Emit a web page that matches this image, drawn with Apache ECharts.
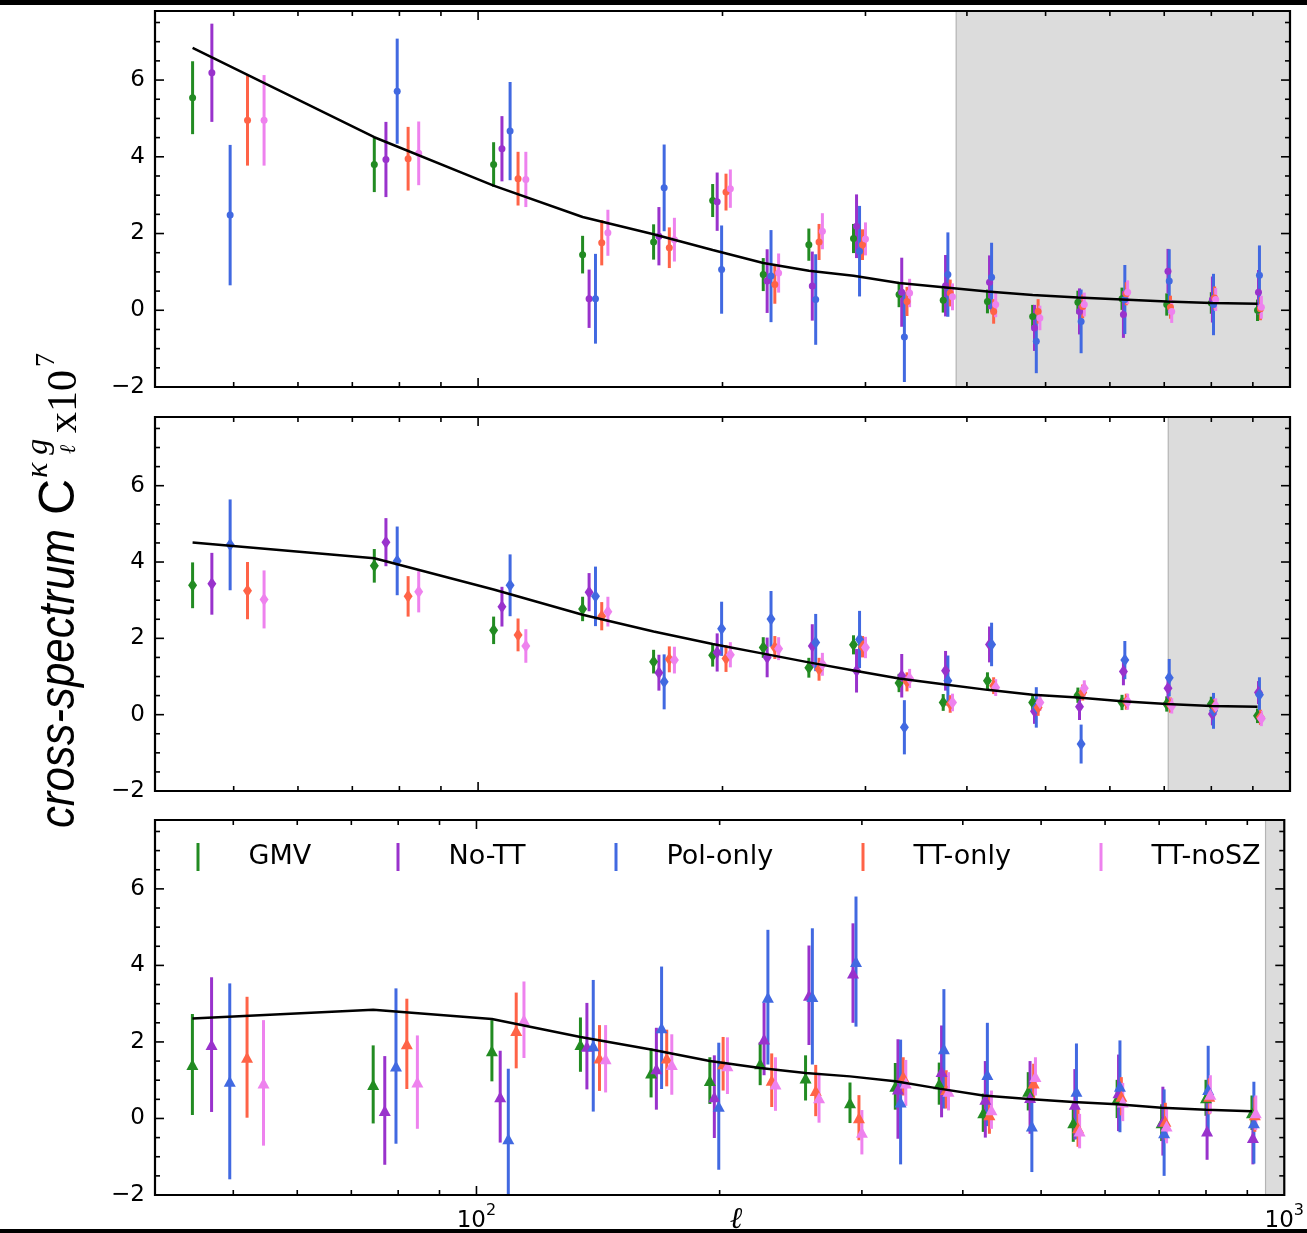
<!DOCTYPE html>
<html>
<head>
<meta charset="utf-8">
<title>cross-spectrum</title>
<script src="https://cdn.jsdelivr.net/npm/echarts@6/dist/echarts.min.js"></script>
<style>
  html, body { margin: 0; padding: 0; background: #fff; }
  #chart { width: 1307px; height: 1233px; }
</style>
</head>
<body>
<div id="chart"></div>
<script>
// bin positions in ell (GMV point); the other estimators sit a little to the right
var binL = [44.5, 74.5, 104.5, 134.5, 164.5, 194.5, 224.5, 255.5, 290, 330, 374, 424, 482, 548, 621, 705, 800, 912];
var estShift = [0, 2.5, 5, 7.5, 10];
var names = ['GMV', 'No-TT', 'Pol-only', 'TT-only', 'TT-noSZ'];
var colors = ['#228b22', '#9932cc', '#4169e1', '#ff6347', '#ee82ee'];

// top panel (dots)
var topGMV = [5.54, 3.80, 3.80, 1.45, 1.78, 2.86, 0.93, 1.71, 1.87, 0.41, 0.26, 0.23, -0.16, 0.21, 0.30, 0.15, 0.19, 0.00];
var topGMVErr = [0.95, 0.72, 0.58, 0.49, 0.46, 0.43, 0.43, 0.42, 0.38, 0.33, 0.32, 0.31, 0.30, 0.30, 0.29, 0.29, 0.28, 0.28];
var topNoTT = [6.19, 3.93, 4.21, 0.30, 1.93, 2.83, 0.76, 0.63, 2.19, 0.47, 0.64, 0.73, -0.46, -0.03, -0.11, 1.02, 0.28, 0.47];
var topNoTTErr = [1.28, 0.98, 0.85, 0.76, 0.76, 0.76, 0.83, 0.90, 0.83, 0.90, 0.80, 0.70, 0.60, 0.60, 0.61, 0.58, 0.60, 0.58];
var topPol = [2.48, 5.71, 4.67, 0.30, 3.19, 1.06, 0.89, 0.28, 1.54, -0.70, 0.93, 0.86, -0.81, -0.29, 0.28, 0.76, 0.15, 0.91];
var topPolErr = [1.83, 1.37, 1.28, 1.17, 1.13, 1.15, 1.20, 1.18, 1.18, 1.17, 1.10, 0.90, 0.83, 0.83, 0.90, 0.83, 0.80, 0.78];
var topTT = [4.95, 3.95, 3.43, 1.76, 1.63, 3.08, 0.67, 1.78, 1.71, 0.23, 0.45, -0.03, -0.03, 0.10, 0.43, 0.08, 0.32, 0.04];
var topTTErr = [1.18, 0.83, 0.70, 0.59, 0.53, 0.48, 0.50, 0.47, 0.40, 0.38, 0.35, 0.32, 0.32, 0.31, 0.30, 0.30, 0.30, 0.30];
var topNoSZ = [4.95, 4.09, 3.41, 2.02, 1.84, 3.17, 0.97, 2.06, 1.86, 0.45, 0.35, 0.15, -0.20, 0.15, 0.47, -0.03, 0.28, 0.08];
var topNoSZErr = [1.18, 0.83, 0.72, 0.60, 0.57, 0.50, 0.51, 0.47, 0.43, 0.37, 0.35, 0.33, 0.32, 0.31, 0.31, 0.30, 0.30, 0.30];
var topTheory = [6.84, 4.51, 3.25, 2.43, 1.98, 1.57, 1.23, 1.03, 0.90, 0.71, 0.60, 0.49, 0.40, 0.33, 0.28, 0.23, 0.19, 0.17];

// middle panel (diamonds)
var midGMV = [3.39, 3.90, 2.21, 2.77, 1.39, 1.56, 1.76, 1.23, 1.83, 0.83, 0.32, 0.89, 0.32, 0.51, 0.32, 0.28, 0.28, -0.03];
var midGMVErr = [0.60, 0.44, 0.36, 0.32, 0.31, 0.30, 0.27, 0.26, 0.25, 0.24, 0.22, 0.22, 0.21, 0.20, 0.20, 0.20, 0.19, 0.19];
var midNoTT = [3.43, 4.52, 2.83, 3.21, 1.10, 1.63, 1.50, 1.80, 1.15, 1.02, 1.15, 1.84, 0.09, 0.21, 1.13, 0.69, 0.02, 0.58];
var midNoTTErr = [0.81, 0.63, 0.52, 0.50, 0.47, 0.50, 0.52, 0.57, 0.57, 0.57, 0.52, 0.47, 0.33, 0.35, 0.36, 0.33, 0.30, 0.30];
var midPol = [4.45, 4.03, 3.39, 3.10, 0.86, 2.25, 2.51, 1.89, 1.97, -0.33, 0.89, 1.84, 0.19, -0.77, 1.43, 0.97, 0.10, 0.52];
var midPolErr = [1.19, 0.90, 0.81, 0.78, 0.72, 0.71, 0.73, 0.75, 0.75, 0.71, 0.66, 0.57, 0.53, 0.51, 0.50, 0.49, 0.47, 0.46];
var midTT = [3.25, 3.10, 2.09, 2.58, 1.45, 1.47, 1.76, 1.19, 1.78, 0.86, 0.28, 0.76, 0.19, 0.58, 0.34, 0.25, 0.21, -0.07];
var midTTErr = [0.75, 0.53, 0.43, 0.37, 0.34, 0.35, 0.30, 0.30, 0.28, 0.25, 0.23, 0.22, 0.22, 0.21, 0.21, 0.20, 0.20, 0.20];
var midNoSZ = [3.02, 3.22, 1.80, 2.70, 1.43, 1.57, 1.73, 1.32, 1.76, 0.95, 0.32, 0.71, 0.32, 0.69, 0.34, 0.23, 0.23, -0.10];
var midNoSZErr = [0.76, 0.54, 0.44, 0.39, 0.35, 0.33, 0.30, 0.30, 0.28, 0.25, 0.23, 0.22, 0.22, 0.21, 0.21, 0.20, 0.20, 0.20];
var midTheory = [4.51, 4.10, 3.28, 2.62, 2.18, 1.85, 1.60, 1.37, 1.16, 0.95, 0.80, 0.65, 0.52, 0.45, 0.35, 0.28, 0.23, 0.21];

// bottom panel (triangles)
var botGMV = [1.41, 0.89, 1.77, 1.93, 1.19, 0.99, 1.43, 1.06, 0.41, 0.84, 0.91, 0.15, 0.71, -0.11, 0.51, -0.11, 0.54, 0.15];
var botGMVErr = [1.32, 1.02, 0.80, 0.71, 0.64, 0.61, 0.56, 0.59, 0.53, 0.61, 0.55, 0.50, 0.50, 0.50, 0.50, 0.48, 0.47, 0.45];
var botNoTT = [1.93, 0.21, 0.57, 1.89, 1.30, 0.57, 2.08, 3.22, 3.80, 0.77, 1.23, 0.50, 0.55, 0.37, 0.67, -0.07, -0.33, -0.50];
var botNoTTErr = [1.76, 1.42, 1.20, 1.13, 1.07, 1.08, 0.95, 1.30, 1.30, 1.30, 1.20, 1.00, 0.95, 0.92, 1.00, 0.90, 0.75, 0.70];
var botPol = [0.97, 1.37, -0.53, 1.90, 2.37, 0.32, 3.17, 3.19, 4.10, 0.43, 1.82, 1.15, -0.20, 0.71, 0.84, -0.37, 0.76, -0.11];
var botPolErr = [2.56, 2.03, 1.83, 1.72, 1.60, 1.66, 1.76, 1.78, 1.70, 1.63, 1.56, 1.35, 1.20, 1.25, 1.20, 1.13, 1.14, 1.07];
var botTT = [1.60, 1.95, 2.30, 1.58, 1.58, 1.43, 1.00, 0.73, 0.02, 1.10, 0.76, 0.10, 0.93, -0.24, 0.58, -0.07, 0.58, 0.10];
var botTTErr = [1.58, 1.18, 0.99, 0.86, 0.74, 0.70, 0.70, 0.67, 0.59, 0.50, 0.50, 0.50, 0.50, 0.50, 0.50, 0.48, 0.47, 0.45];
var botNoSZ = [0.93, 0.95, 2.58, 1.56, 1.41, 1.38, 0.90, 0.54, -0.36, 0.93, 0.71, 0.23, 1.10, -0.33, 0.43, -0.20, 0.63, 0.15];
var botNoSZErr = [1.64, 1.22, 1.00, 0.88, 0.79, 0.74, 0.70, 0.65, 0.58, 0.60, 0.50, 0.50, 0.50, 0.45, 0.50, 0.45, 0.50, 0.45];
var botTheory = [2.61, 2.84, 2.60, 2.13, 1.80, 1.50, 1.32, 1.19, 1.10, 0.97, 0.78, 0.60, 0.51, 0.43, 0.37, 0.28, 0.23, 0.19];

// start of the grey (excluded) ell range in each panel
var shadeStart = [388, 708, 948];

// tick values
var xMajorTicks = [100];
var xMinorTicks = [50, 60, 70, 80, 90, 200, 300, 400, 500, 600, 700, 800, 900];
var yMajorTicks = [-2, 0, 2, 4, 6];
var yMinorTicks = [-1.5, -1, -0.5, 0.5, 1, 1.5, 2.5, 3, 3.5, 4.5, 5, 5.5, 6.5, 7, 7.5];

var XMIN = 40, XMAX = 1000, YMIN = -2, YMAX = 7.8;

var panels = [
  { vals: [topGMV, topNoTT, topPol, topTT, topNoSZ], errs: [topGMVErr, topNoTTErr, topPolErr, topTTErr, topNoSZErr],
    theory: topTheory, symbol: 'circle', size: 7 },
  { vals: [midGMV, midNoTT, midPol, midTT, midNoSZ], errs: [midGMVErr, midNoTTErr, midPolErr, midTTErr, midNoSZErr],
    theory: midTheory, symbol: 'diamond', size: [9, 13] },
  { vals: [botGMV, botNoTT, botPol, botTT, botNoSZ], errs: [botGMVErr, botNoTTErr, botPolErr, botTTErr, botNoSZErr],
    theory: botTheory, symbol: 'triangle', size: [12, 11] }
];
var gridPos = [{ top: 11, height: 376 }, { top: 417, height: 374 }, { top: 820, height: 375 }];

function renderErr(params, api) {
  var cs = params.coordSys;
  var x = api.value(0);
  var lo = api.coord([x, api.value(1)]);
  var hi = api.coord([x, api.value(2)]);
  var clamp = function (v) { return Math.min(Math.max(v, cs.y), cs.y + cs.height); };
  return {
    type: 'line',
    shape: { x1: lo[0], y1: clamp(hi[1]), x2: lo[0], y2: clamp(lo[1]) },
    style: { stroke: api.visual('color'), lineWidth: 3 }
  };
}

function renderShade(params, api) {
  var cs = params.coordSys;
  var p = api.coord([api.value(0), api.value(1)]);
  var x0 = Math.max(p[0], cs.x);
  return {
    type: 'group',
    children: [
      { type: 'rect', shape: { x: x0, y: cs.y, width: cs.x + cs.width - x0, height: cs.height }, style: { fill: '#dcdcdc' } },
      { type: 'line', shape: { x1: x0, y1: cs.y, x2: x0, y2: cs.y + cs.height }, style: { stroke: '#b4b4b4', lineWidth: 1.2 } }
    ]
  };
}

// ticks on all four sides, pointing inwards, plus the frame
function renderTicks(params, api) {
  var cs = params.coordSys;
  var kind = api.value(2);
  var st = { stroke: '#000', lineWidth: 1.6 };
  if (kind === 4) {
    return { type: 'rect', shape: { x: cs.x, y: cs.y, width: cs.width, height: cs.height },
      style: { fill: null, stroke: '#000', lineWidth: 2.2 } };
  }
  var p = api.coord([api.value(0), api.value(1)]);
  var len = (kind === 0 || kind === 2) ? 9 : 5;
  var b = cs.y + cs.height, r = cs.x + cs.width;
  if (kind < 2) {
    return { type: 'group', children: [
      { type: 'line', shape: { x1: p[0], y1: b, x2: p[0], y2: b - len }, style: st },
      { type: 'line', shape: { x1: p[0], y1: cs.y, x2: p[0], y2: cs.y + len }, style: st }
    ] };
  }
  return { type: 'group', children: [
    { type: 'line', shape: { x1: cs.x, y1: p[1], x2: cs.x + len, y2: p[1] }, style: st },
    { type: 'line', shape: { x1: r, y1: p[1], x2: r - len, y2: p[1] }, style: st }
  ] };
}

var tickData = []
  .concat(xMajorTicks.map(function (v) { return [v, YMIN, 0]; }))
  .concat(xMinorTicks.map(function (v) { return [v, YMIN, 1]; }))
  .concat(yMajorTicks.map(function (v) { return [XMIN, v, 2]; }))
  .concat(yMinorTicks.map(function (v) { return [XMIN, v, 3]; }))
  .concat([[XMIN, YMIN, 4]]);

var grids = [], xAxes = [], yAxes = [], series = [];

panels.forEach(function (pn, g) {
  grids.push({ left: 155, right: 17, top: gridPos[g].top, height: gridPos[g].height });
  xAxes.push({
    type: 'log', logBase: 10, gridIndex: g, min: XMIN, max: XMAX,
    axisLine: { show: false }, axisTick: { show: false }, splitLine: { show: false }, minorTick: { show: false },
    axisLabel: {
      show: g === 2, margin: 8, showMinLabel: false, showMaxLabel: true,
      formatter: function (v) {
        var e = Math.log(v) / Math.LN10;
        if (Math.abs(e - Math.round(e)) > 1e-6) return '';
        return '{m|10}{s|' + Math.round(e) + '}';
      },
      rich: {
        m: { fontSize: 23, fontFamily: 'DejaVu Sans', color: '#000', verticalAlign: 'bottom', lineHeight: 30 },
        s: { fontSize: 16, fontFamily: 'DejaVu Sans', color: '#000', verticalAlign: 'top', lineHeight: 18 }
      }
    }
  });
  yAxes.push({
    type: 'value', gridIndex: g, min: YMIN, max: YMAX, interval: 2,
    axisLine: { show: false }, axisTick: { show: false }, splitLine: { show: false },
    axisLabel: {
      margin: 10, fontSize: 23, fontFamily: 'DejaVu Sans', color: '#000', showMaxLabel: false,
      formatter: function (v) { return v < 0 ? '\u2212' + (-v) : String(v); }
    }
  });

  series.push({
    type: 'custom', xAxisIndex: g, yAxisIndex: g, z: 1, silent: true,
    renderItem: renderShade, encode: { x: 0, y: 1 },
    data: [[shadeStart[g], YMIN]]
  });

  for (var k = 0; k < 5; k++) {
    var vals = pn.vals[k], errs = pn.errs[k], sh = estShift[k];
    series.push({
      name: names[k], type: 'custom', xAxisIndex: g, yAxisIndex: g, z: 2,
      itemStyle: { color: colors[k] },
      renderItem: renderErr, encode: { x: 0, y: [1, 2] },
      data: binL.map(function (l, i) { return [l + sh, vals[i] - errs[i], vals[i] + errs[i]]; })
    });
    series.push({
      name: names[k], type: 'scatter', xAxisIndex: g, yAxisIndex: g, z: 3,
      symbol: pn.symbol, symbolSize: pn.size,
      itemStyle: { color: colors[k], opacity: 1 },
      data: binL.map(function (l, i) { return [l + sh, vals[i]]; })
    });
  }

  series.push({
    type: 'line', xAxisIndex: g, yAxisIndex: g, z: 4, silent: true,
    showSymbol: false, symbol: 'none',
    lineStyle: { color: '#000', width: 2.5 },
    data: binL.map(function (l, i) { return [l, pn.theory[i]]; })
  });

  series.push({
    type: 'custom', xAxisIndex: g, yAxisIndex: g, z: 6, silent: true,
    renderItem: renderTicks, encode: { x: 0, y: 1 },
    data: tickData
  });
});

// one legend box per entry, spread along the top of the bottom panel
var legendIconX = [198, 398, 616, 863, 1101];
var legends = names.map(function (n, k) {
  return {
    data: [n], left: legendIconX[k] - 1.5, top: 843, padding: 0,
    icon: 'rect', itemWidth: 3, itemHeight: 28, selectedMode: false,
    formatter: function (name) { return '{pad|}' + name; },
    textStyle: { fontSize: 27, fontFamily: 'DejaVu Sans', color: '#000', rich: { pad: { width: 44 } } }
  };
});

var chart = echarts.init(document.getElementById('chart'));
chart.setOption({
  animation: false,
  backgroundColor: '#fff',
  grid: grids,
  xAxis: xAxes,
  yAxis: yAxes,
  legend: legends,
  series: series,
  graphic: [
    { type: 'rect', z: 100, shape: { x: 0, y: 0, width: 1307, height: 5 }, style: { fill: '#000' } },
    { type: 'rect', z: 100, shape: { x: 0, y: 1229, width: 1307, height: 4 }, style: { fill: '#000' } },
    { type: 'text', x: 736, y: 1220, style: { text: '\u2113', font: 'italic 30px "DejaVu Serif"', fill: '#000', align: 'center', verticalAlign: 'middle' } },
    {
      type: 'group', x: 0, y: 828, rotation: Math.PI / 2,
      children: [
        { type: 'text', x: 0, y: 60, scaleX: 0.875, style: { text: 'cross-spectrum', font: 'italic 50px "Liberation Sans"', fill: '#000', align: 'left', verticalAlign: 'middle' } },
        { type: 'text', x: 313, y: 60, style: { text: 'C', font: '50px "Liberation Sans"', fill: '#000', align: 'left', verticalAlign: 'middle' } },
        { type: 'text', x: 350, y: 39, style: { text: '\u03ba g', font: 'italic 32px "Liberation Serif"', fill: '#000', align: 'left', verticalAlign: 'middle' } },
        { type: 'text', x: 374, y: 69, style: { text: '\u2113', font: 'italic 22px "DejaVu Serif"', fill: '#000', align: 'left', verticalAlign: 'middle' } },
        { type: 'text', x: 395, y: 65, style: { text: 'x10', font: '42px "Liberation Serif"', fill: '#000', align: 'left', verticalAlign: 'middle' } },
        { type: 'text', x: 461, y: 47, style: { text: '7', font: '28px "Liberation Serif"', fill: '#000', align: 'left', verticalAlign: 'middle' } }
      ]
    }
  ]
});
</script>
</body>
</html>
